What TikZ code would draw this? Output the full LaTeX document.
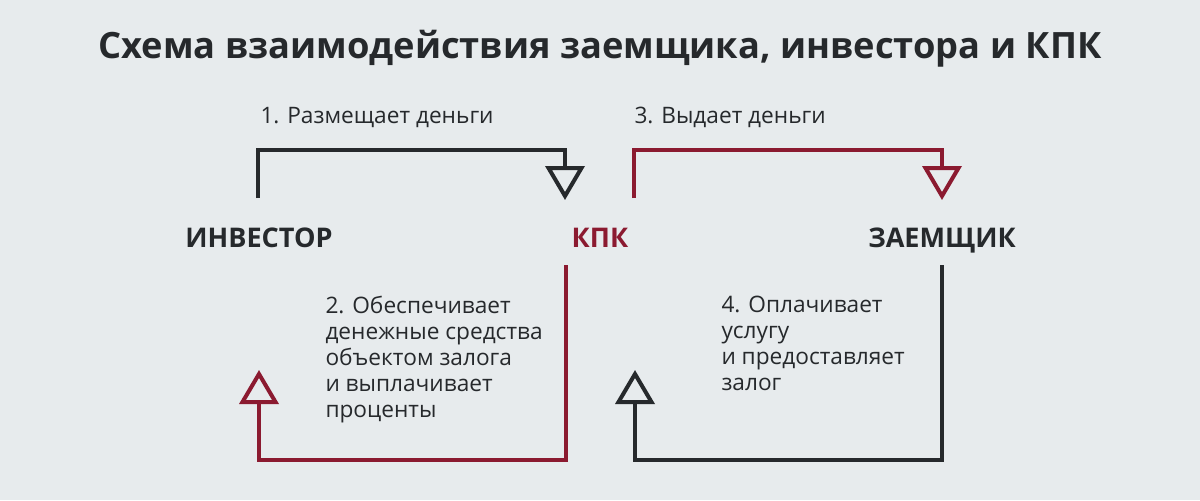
\documentclass[tikz,border=0pt]{standalone}
\usepackage{fontspec}
\setmainfont{Open Sans}
\definecolor{bg}{HTML}{E7EBED}
\definecolor{ink}{HTML}{26292C}
\definecolor{kpkred}{HTML}{8B1A30}

\tikzset{every picture/.style={line width=0.75pt}}
\tikzset{
  flow/.style={line width=3pt, line join=miter},
  tri/.style={line width=3pt, line join=miter, fill=bg},
  party/.style={font=\fontsize{20.3}{24}\selectfont\bfseries, anchor=base, inner sep=0pt},
  stepnote/.style={font=\fontsize{17}{19.5}\selectfont, text=ink, inner sep=0pt},
}

\begin{document}
\begin{tikzpicture}[x=0.75pt,y=0.75pt,yscale=-1,xscale=1]
		%Background
		\fill[bg] (0,0) rectangle (1200,500);
		\useasboundingbox (0,0) rectangle (1200,500);

		% Text Node
		\node (title) [anchor=base, inner sep=0pt, text=ink, font=\fontsize{27.2}{32}\selectfont\bfseries] at (600,58) {Схема взаимодействия заемщика, инвестора и КПК};

		% Text Node
		\node (investor) [party, text=ink] at (259,247) {ИНВЕСТОР};
		% Text Node
		\node (kpk) [party, text=kpkred] at (600,247) {КПК};
		% Text Node
		\node (borrower) [party, text=ink] at (942,247) {ЗАЕМЩИК};

		% Coordinates
		\coordinate (inv out) at (258,198);
		\coordinate (kpk in) at (565,168);
		\coordinate (kpk out) at (634,198);
		\coordinate (bor in) at (942,168);
		\coordinate (kpk back) at (566,265);
		\coordinate (inv in) at (259,402);
		\coordinate (bor back) at (942,265);
		\coordinate (kpk in2) at (635,402);

		%Straight Lines 1
		\draw [flow, draw=ink] (inv out) |- (258,150) -| (kpk in);
		%Shape: Triangle
		\draw [tri, draw=ink] (kpk in) ++(-16.5,0) -- ++(33,0) -- ++(-16.5,28) -- cycle;
		%Straight Lines 3
		\draw [flow, draw=kpkred] (kpk out) |- (634,150) -| (bor in);
		%Shape: Triangle
		\draw [tri, draw=kpkred] (bor in) ++(-16.5,0) -- ++(33,0) -- ++(-16.5,28) -- cycle;
		%Straight Lines 2
		\draw [flow, draw=kpkred] (kpk back) |- (259,460) -| (inv in);
		%Shape: Triangle
		\draw [tri, draw=kpkred] (inv in) ++(-16.5,0) -- ++(33,0) -- ++(-16.5,-28) -- cycle;
		%Straight Lines 4
		\draw [flow, draw=ink] (bor back) |- (635,460) -| (kpk in2);
		%Shape: Triangle
		\draw [tri, draw=ink] (kpk in2) ++(-16.5,0) -- ++(33,0) -- ++(-16.5,-28) -- cycle;

		% Text Node
		\node (step1) [stepnote, anchor=base west] at (260,123) {1. Размещает деньги};
		% Text Node
		\node (step3) [stepnote, anchor=base west] at (634,123) {3. Выдает деньги};
		% Text Node
		\node (step2) [stepnote, anchor=north west, align=left] at (325,296) {2. Обеспечивает\\денежные средства\\объектом залога\\и выплачивает\\проценты};
		% Text Node
		\node (step4) [stepnote, anchor=north west, align=left] at (721,296) {4. Оплачивает\\услугу\\и предоставляет\\залог};

\end{tikzpicture}
\end{document}
